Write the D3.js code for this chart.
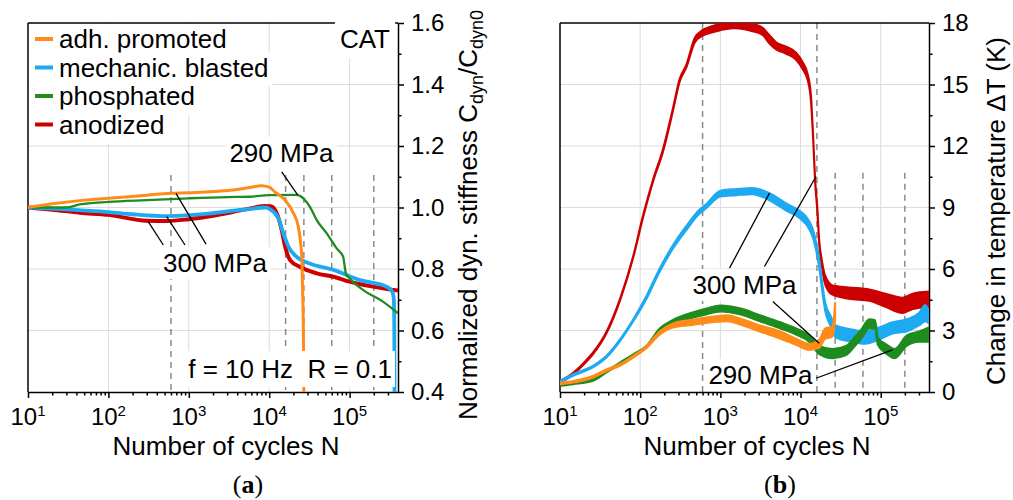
<!DOCTYPE html>
<html>
<head>
<meta charset="utf-8">
<script src="https://cdn.jsdelivr.net/npm/d3@7"></script>
<style>
body { margin: 0; background: #fff; }
svg text { font-family: "Liberation Sans", Arial, sans-serif; fill: #000; }
.grid line { stroke: #dcdcdc; stroke-width: 1; }
.dash { stroke: #8a8a8a; stroke-width: 1.5; stroke-dasharray: 6,5; }
.axis path, .axis line { stroke: #000; stroke-width: 1.5; }
.frame { stroke: #000; stroke-width: 1.5; }
.leader { stroke: #000; stroke-width: 1.3; }
</style>
</head>
<body>
<svg id="chart" width="1013" height="500"></svg>
<script>
"use strict";

// x axis (number of cycles)
var decades = [10, 100, 1000, 10000, 100000];
var decadeExp = ["1", "2", "3", "4", "5"];
var minorN = [20, 30, 40, 50, 60, 70, 80, 90, 200, 300, 400, 500, 600, 700, 800, 900,
	2000, 3000, 4000, 5000, 6000, 7000, 8000, 9000, 20000, 30000, 40000, 50000, 60000,
	70000, 80000, 90000, 200000, 300000];

// y ticks
var stiffTicks = [0.4, 0.6, 0.8, 1.0, 1.2, 1.4, 1.6];
var stiffMinor = [0.5, 0.7, 0.9, 1.1, 1.3, 1.5];
var tempTicks = [0, 3, 6, 9, 12, 15, 18];
var tempMinor = [1.5, 4.5, 7.5, 10.5, 13.5, 16.5];

var seriesNames = ["adh. promoted", "mechanic. blasted", "phosphated", "anodized"];

// marker cycles (dashed lines) and where they start
var dashN = [600, 16000, 27000, 60000, 200000];
var dashTopStiff = [1.106, 1.106, 1.106, 1.106, 1.106];
var dashTopTemp = [18, 18, 10.7, 10.7, 10.7];

// (a) normalized dyn. stiffness [N, Cdyn/Cdyn0]
var stiffAdh = [[10, 1.0], [20, 1.012], [50, 1.024], [100, 1.03], [300, 1.04], [600, 1.046],
	[1000, 1.048], [3000, 1.055], [6000, 1.066], [8000, 1.071], [10000, 1.066], [11700, 1.051],
	[15800, 1.024], [20000, 0.982], [23000, 0.938], [24600, 0.884], [25500, 0.829],
	[26100, 0.72], [26600, 0.6], [27000, 0.38]];
var stiffMech = [[10, 1.0], [30, 0.994], [100, 0.985], [200, 0.978], [530, 0.972], [1000, 0.975],
	[2000, 0.982], [3600, 0.99], [5700, 0.995], [9000, 1.0], [10200, 0.995], [13000, 0.965],
	[15000, 0.916], [17400, 0.872], [21800, 0.84], [32000, 0.818], [63000, 0.797],
	[135000, 0.764], [290000, 0.742], [340000, 0.726], [355000, 0.70], [360000, 0.6], [362000, 0.38]];
var stiffPhos = [[10, 1.0], [30, 1.0], [44, 1.01], [100, 1.018], [300, 1.024], [1000, 1.03],
	[3000, 1.034], [5700, 1.035], [10000, 1.04], [21800, 1.041], [26600, 1.03], [32000, 1.003],
	[39000, 0.959], [52000, 0.916], [69000, 0.867], [83000, 0.84], [90000, 0.786],
	[100000, 0.77], [147000, 0.732], [260000, 0.694], [400000, 0.656]];
var stiffAnod = [[10, 1.0], [20, 0.993], [44, 0.983], [100, 0.976], [300, 0.957], [530, 0.956],
	[1000, 0.962], [2000, 0.973], [3600, 0.986], [6000, 0.998], [9000, 1.005], [10500, 1.004],
	[12400, 0.981], [14300, 0.927], [15800, 0.872], [18200, 0.829], [24000, 0.807],
	[39000, 0.786], [63000, 0.775], [100000, 0.759], [260000, 0.737], [400000, 0.73]];

// (b) change in temperature [N, low, high] (band of the noisy signal)
var tempAdh = [[10, 0.38, 0.46], [14.6, 0.46, 0.54], [26, 0.71, 0.79], [38, 1.02, 1.1], [56, 1.28, 1.37],
	[82, 1.68, 1.77], [120, 2.15, 2.25], [175, 2.8, 2.95], [257, 3.15, 3.35], [450, 3.27, 3.53],
	[660, 3.37, 3.63], [1200, 3.45, 3.75], [1800, 3.28, 3.57], [3100, 2.95, 3.25], [5600, 2.6, 2.95],
	[8800, 2.3, 2.6], [12800, 2.05, 2.35], [17100, 2.15, 2.55], [20300, 2.6, 3.1], [25000, 2.7, 3.2],
	[26000, 3.0, 3.6], [27000, 3.6, 4.35]];
var tempMech = [[10, 0.46, 0.54], [14.6, 0.79, 0.87], [26, 1.21, 1.29], [38, 1.68, 1.77], [56, 2.48, 2.57],
	[82, 3.45, 3.55], [120, 4.55, 4.7], [175, 5.87, 6.03], [257, 7.0, 7.17], [377, 7.9, 8.1],
	[550, 8.7, 8.9], [660, 8.95, 9.15], [1000, 9.53, 9.82], [1600, 9.6, 9.9], [2500, 9.65, 9.95],
	[4100, 9.35, 9.7], [6600, 8.85, 9.2], [9600, 8.5, 8.85], [12800, 7.95, 8.35], [14600, 7.4, 7.8],
	[17100, 6.05, 6.45], [18600, 4.95, 5.35], [20300, 3.95, 4.35], [23500, 3.25, 3.75], [27600, 2.65, 3.25],
	[44000, 2.45, 3.05], [64000, 2.35, 2.95], [95000, 2.55, 3.15], [140000, 2.85, 3.4], [210000, 2.95, 3.55],
	[300000, 3.25, 3.85], [360000, 3.45, 4.25], [400000, 3.35, 3.9]];
var tempPhos = [[10, 0.3, 0.38], [14.6, 0.38, 0.46], [26, 0.55, 0.63], [38, 0.95, 1.03], [56, 1.36, 1.44],
	[82, 1.76, 1.84], [120, 2.16, 2.26], [175, 2.95, 3.1], [257, 3.32, 3.52], [450, 3.62, 3.88],
	[660, 3.78, 4.06], [1000, 3.93, 4.22], [1800, 3.78, 4.07], [3100, 3.45, 3.75], [5600, 3.1, 3.4],
	[8800, 2.8, 3.1], [12800, 2.45, 2.75], [17100, 1.85, 2.25], [25000, 1.65, 2.1], [37000, 1.8, 2.25],
	[49000, 2.3, 2.75], [56000, 2.55, 3.0], [72000, 3.1, 3.55], [85000, 3.1, 3.5], [92000, 2.3, 2.65],
	[115000, 1.9, 2.35], [150000, 1.65, 2.1], [210000, 2.25, 2.75], [300000, 2.45, 2.95], [400000, 2.45, 3.15]];
var tempAnod = [[10, 0.46, 0.54], [14.6, 0.86, 0.94], [20, 1.36, 1.44], [26, 1.86, 1.94], [38, 2.86, 2.94],
	[56, 4.46, 4.54], [82, 6.56, 6.64], [108, 8.47, 8.58], [145, 10.27, 10.38], [193, 11.73, 11.87],
	[257, 13.73, 13.87], [310, 15.13, 15.27], [377, 15.83, 15.97], [480, 17.05, 17.28], [600, 17.38, 17.65],
	[800, 17.55, 17.85], [1000, 17.65, 17.95], [1450, 17.75, 18.05], [2000, 17.7, 18.02], [2500, 17.6, 17.95],
	[3100, 17.5, 17.85], [3400, 17.4, 17.75], [4100, 17.0, 17.4], [5000, 16.7, 17.05], [6600, 16.5, 16.85],
	[8800, 16.2, 16.55], [10600, 15.75, 16.1], [12300, 15.2, 15.5], [13500, 14.15, 14.45],
	[14400, 12.2, 12.4], [15200, 10.2, 10.4], [16200, 8.8, 9.0], [17100, 7.2, 7.4], [18500, 6.1, 6.4],
	[19800, 5.4, 5.8], [22000, 4.95, 5.4], [25000, 4.75, 5.2], [40000, 4.55, 5.1], [72000, 4.45, 5.0],
	[115000, 4.15, 4.8], [186000, 3.85, 4.6], [250000, 4.05, 4.8], [400000, 4.15, 4.9]];

var colors = {adh: "#ff8c1a", mech: "#1eaaf1", phos: "#1e8c1e", anod: "#cc0000"};

var svg = d3.select("#chart");
var top0 = 23, bottom0 = 392;

function textWithBg(parent, x, y, txt, anchor, pad) {
	var g = parent.append("g");
	var rect = g.append("rect").attr("fill", "#fff");
	var t = g.append("text")
		.attr("x", x).attr("y", y)
		.attr("text-anchor", anchor)
		.style("font-size", "26px")
		.style("white-space", "pre")
		.text(txt);
	var b = t.node().getBBox();
	rect.attr("x", b.x - pad[0]).attr("y", b.y - pad[1])
		.attr("width", b.width + pad[0] * 2).attr("height", b.height + pad[1] * 2);
	return g;
}

function makePanel(cfg) {
	var x = d3.scaleLog().domain([10, 4e5]).range([cfg.left, cfg.right]);
	var y = d3.scaleLinear().domain(cfg.yDomain).range([bottom0, top0]);
	var g = svg.append("g");

	svg.append("clipPath").attr("id", cfg.id + "clip").append("rect")
		.attr("x", cfg.left).attr("y", top0)
		.attr("width", cfg.right - cfg.left).attr("height", bottom0 - top0);

	// grid
	var grid = g.append("g").attr("class", "grid");
	grid.selectAll(".gx").data(decades.slice(1)).enter().append("line")
		.attr("x1", x).attr("x2", x).attr("y1", top0).attr("y2", bottom0);
	grid.selectAll(".gy").data(cfg.yTicks.slice(1, -1)).enter().append("line")
		.attr("x1", cfg.left).attr("x2", cfg.right).attr("y1", y).attr("y2", y);

	// dashed marker lines
	g.selectAll(".dash").data(dashN).enter().append("line")
		.attr("class", "dash")
		.attr("x1", x).attr("x2", x)
		.attr("y1", function(d, i) { return y(cfg.dashTop[i]); })
		.attr("y2", bottom0);

	// axes
	var yAxis = g.append("g").attr("class", "axis")
		.attr("transform", "translate(" + cfg.right + ",0)")
		.call(d3.axisRight(y).tickValues(cfg.yTicks).tickSize(6).tickSizeOuter(0)
			.tickPadding(7).tickFormat(cfg.yFormat));
	yAxis.selectAll("text").style("font-size", "24px");
	g.append("g").attr("class", "axis")
		.attr("transform", "translate(" + cfg.right + ",0)")
		.call(d3.axisRight(y).tickValues(cfg.yMinor).tickSize(3.5).tickFormat(""))
		.select(".domain").remove();

	g.append("g").attr("class", "axis")
		.attr("transform", "translate(0," + bottom0 + ")")
		.call(d3.axisBottom(x).tickValues(decades).tickSize(6).tickSizeOuter(0).tickFormat(""));
	g.append("g").attr("class", "axis")
		.attr("transform", "translate(0," + bottom0 + ")")
		.call(d3.axisBottom(x).tickValues(minorN).tickSize(3.5).tickFormat(""))
		.select(".domain").remove();

	var xl = g.selectAll(".xlab").data(decades).enter().append("text")
		.attr("x", x).attr("y", 425)
		.attr("text-anchor", "middle")
		.style("font-size", "24px");
	xl.append("tspan").text("10");
	xl.append("tspan").attr("dy", -9).style("font-size", "15px")
		.text(function(d, i) { return decadeExp[i]; });

	// frame
	g.append("line").attr("class", "frame")
		.attr("x1", cfg.left).attr("x2", cfg.right).attr("y1", top0).attr("y2", top0);
	g.append("line").attr("class", "frame")
		.attr("x1", cfg.left).attr("x2", cfg.left).attr("y1", top0).attr("y2", bottom0);

	g.append("text")
		.attr("x", cfg.xTitleX).attr("y", 455)
		.attr("text-anchor", "middle")
		.style("font-size", "26px")
		.text("Number of cycles N");

	var cap = g.append("text")
		.attr("x", cfg.capX).attr("y", 493)
		.attr("text-anchor", "middle")
		.style("font-family", "'Liberation Serif', 'Times New Roman', serif")
		.style("font-size", "26px");
	cap.append("tspan").text("(");
	cap.append("tspan").style("font-weight", "bold").text(cfg.cap);
	cap.append("tspan").text(")");

	return {g: g, x: x, y: y};
}

// ---------- panel (a) ----------
var pa = makePanel({
	id: "a", left: 28, right: 398, yDomain: [0.4, 1.6],
	yTicks: stiffTicks, yMinor: stiffMinor, yFormat: d3.format(".1f"),
	dashTop: dashTopStiff, xTitleX: 226, capX: 248, cap: "a"
});

var lineA = d3.line()
	.x(function(d) { return pa.x(d[0]); })
	.y(function(d) { return pa.y(d[1]); })
	.curve(d3.curveMonotoneX);

var curvesA = pa.g.append("g").attr("clip-path", "url(#aclip)");
[[stiffAnod, colors.anod, 4], [stiffMech, colors.mech, 3.8],
	[stiffPhos, colors.phos, 2.3], [stiffAdh, colors.adh, 3]].forEach(function(s) {
	curvesA.append("path").datum(s[0])
		.attr("d", lineA).attr("fill", "none")
		.attr("stroke", s[1]).attr("stroke-width", s[2])
		.attr("stroke-linejoin", "round");
});

// legend
var legColors = [colors.adh, colors.mech, colors.phos, colors.anod];
seriesNames.forEach(function(name, i) {
	var by = 48 + i * 28.5;
	var lg = pa.g.append("g");
	var bg = lg.append("rect").attr("fill", "#fff");
	lg.append("line")
		.attr("x1", 35).attr("x2", 53).attr("y1", by - 9).attr("y2", by - 9)
		.attr("stroke", legColors[i]).attr("stroke-width", 4);
	var t = lg.append("text").attr("x", 59).attr("y", by)
		.style("font-size", "26px").text(name);
	var b = t.node().getBBox();
	bg.attr("x", 29).attr("y", Math.max(24, by - 24))
		.attr("width", b.x + b.width + 4 - 29).attr("height", by + 10 - Math.max(24, by - 24));
});

textWithBg(pa.g, 390, 48, "CAT", "end", [5, 4]);
textWithBg(pa.g, 392, 378, "f = 10 Hz  R = 0.1", "end", [3, 3]);

// leaders (a)
var leadA = [
	[[14300, 1.116], [22600, 1.041]],
	[[482, 0.878], [313, 0.954]],
	[[897, 0.878], [531, 0.970]],
	[[1637, 0.881], [693, 1.046]]
];
pa.g.selectAll(".leadA").data(leadA).enter().append("line")
	.attr("class", "leader")
	.attr("x1", function(d) { return pa.x(d[0][0]); })
	.attr("y1", function(d) { return pa.y(d[0][1]); })
	.attr("x2", function(d) { return pa.x(d[1][0]); })
	.attr("y2", function(d) { return pa.y(d[1][1]); });
textWithBg(pa.g, pa.x(14200), pa.y(1.148), "290 MPa", "middle", [3, 1]);
textWithBg(pa.g, pa.x(2120), pa.y(0.79), "300 MPa", "middle", [3, 1]);

var ya = pa.g.append("text")
	.attr("transform", "translate(477,215) rotate(-90)")
	.attr("text-anchor", "middle")
	.style("font-size", "26px");
ya.append("tspan").text("Normalized dyn. stiffness C");
ya.append("tspan").attr("dy", 6).style("font-size", "18px").text("dyn");
ya.append("tspan").attr("dy", -6).text("/C");
ya.append("tspan").attr("dy", 6).style("font-size", "18px").text("dyn0");

// ---------- panel (b) ----------
var pb = makePanel({
	id: "b", left: 560, right: 929, yDomain: [0, 18],
	yTicks: tempTicks, yMinor: tempMinor, yFormat: d3.format("d"),
	dashTop: dashTopTemp, xTitleX: 757, capX: 780, cap: "b"
});

var areaB = d3.area()
	.x(function(d) { return pb.x(d[0]); })
	.y0(function(d) { return pb.y(d[1]); })
	.y1(function(d) { return pb.y(d[2]); })
	.curve(d3.curveMonotoneX);

var curvesB = pb.g.append("g").attr("clip-path", "url(#bclip)");
[[tempAnod, colors.anod], [tempMech, colors.mech],
	[tempPhos, colors.phos], [tempAdh, colors.adh]].forEach(function(s) {
	curvesB.append("path").datum(s[0])
		.attr("d", areaB).attr("fill", s[1])
		.attr("stroke", s[1]).attr("stroke-width", 2)
		.attr("stroke-linejoin", "round");
});

var leadB = [
	[[1300, 6.04], [4100, 9.70]],
	[[3550, 6.12], [15600, 10.51]],
	[[4500, 4.41], [17100, 2.38]],
	[[15600, 0.67], [140000, 2.05]]
];
pb.g.selectAll(".leadB").data(leadB).enter().append("line")
	.attr("class", "leader")
	.attr("x1", function(d) { return pb.x(d[0][0]); })
	.attr("y1", function(d) { return pb.y(d[0][1]); })
	.attr("x2", function(d) { return pb.x(d[1][0]); })
	.attr("y2", function(d) { return pb.y(d[1][1]); });
textWithBg(pb.g, pb.x(2000), pb.y(4.785), "300 MPa", "middle", [3, 1]);
textWithBg(pb.g, pb.x(3160), pb.y(0.39), "290 MPa", "middle", [3, 1]);

pb.g.append("text")
	.attr("transform", "translate(1005,211) rotate(-90)")
	.attr("text-anchor", "middle")
	.style("font-size", "26px")
	.text("Change in temperature \u0394T (K)");
</script>
</body>
</html>
